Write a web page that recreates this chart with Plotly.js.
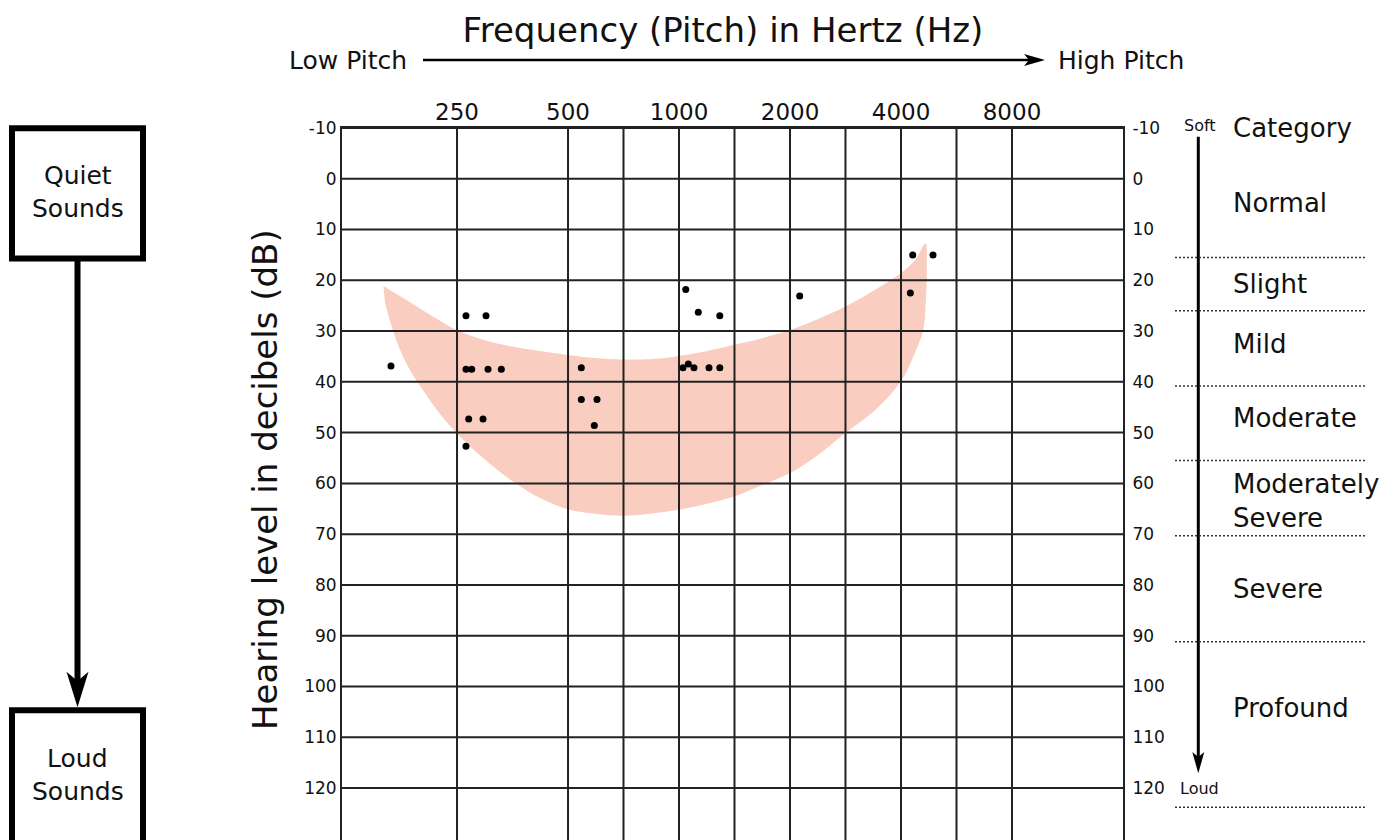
<!DOCTYPE html>
<html><head><meta charset="utf-8">
<script src="https://cdn.plot.ly/plotly-3.0.1.min.js"></script>
<style>html,body{margin:0;padding:0;background:#fff;overflow:hidden}</style>
</head><body><div id="chart" style="width:1395px;height:840px"></div>
<script>
// ---------------- data ----------------
const freqTickVals = [250, 500, 1000, 2000, 4000, 8000];
const freqTickText = ['250', '500', '1000', '2000', '4000', '8000'];
const gridFreqs = [250, 500, 707, 1000, 1414, 2000, 2828, 4000, 5657, 8000];
const dbTicks = [-10, 0, 10, 20, 30, 40, 50, 60, 70, 80, 90, 100, 110, 120];
const xRangeHz = [121.9, 16000];
const yRangeDb = [130.24, -10];

// speech-banana outline (upper edge left->right, then lower edge right->left)
const bananaHz = [157.9, 178.8, 211.2, 249.5, 288.6, 333.8, 406.9, 499.1, 591.9, 706.1, 888.1, 995.6, 1176.4, 1409.9, 1658.4, 1996, 2382, 2820, 3358, 3993, 4365, 4667,
                  4697, 4697, 4662, 4597, 4320, 3993, 3365, 2820, 2382, 1996, 1658.4, 1409.9, 1176.4, 995.6, 834.4, 706.1, 591.9, 499.1, 419.8, 355.3, 294.1, 249.5, 220.2, 202.2, 186.4, 175.1, 167.9, 159.5];
const bananaDb = [21.1, 23.5, 26.8, 29.8, 31.5, 32.7, 33.8, 34.7, 35.3, 35.6, 35.4, 34.9, 34.0, 32.7, 31.5, 29.8, 27.6, 25.2, 22.1, 18.6, 16.0, 12.7,
                  16.7, 19.9, 24.9, 29.8, 35.0, 40.0, 45.9, 50.1, 54.4, 58.0, 60.5, 62.6, 64.1, 65.2, 66.0, 66.4, 66.0, 65.1, 62.9, 59.7, 55.0, 50.1, 45.5, 41.6, 37.7, 33.7, 30.1, 24.5];

// speech sounds (dots)
const pointHz = [264.4, 299.6, 165.5, 264.4, 274.0, 303.4, 329.7, 543.3, 543.3, 599.3, 589.2, 268.9, 294.1, 264.4,
                 4304, 4885, 1043, 1128, 1290, 2125, 4240, 1025, 1060, 1098, 1206, 1290];
const pointDb = [27.0, 27.0, 36.9, 37.5, 37.5, 37.5, 37.5, 37.2, 43.5, 43.5, 48.6, 47.3, 47.3, 52.7,
                 15.0, 15.0, 21.8, 26.3, 27.0, 23.1, 22.5, 37.2, 36.5, 37.2, 37.2, 37.2];

// hearing-loss categories
const categoryBoundsDb = [15.5, 26, 40.8, 55.5, 70.3, 91.2, 123.8];
const categoryLabels = ['Category', 'Normal', 'Slight', 'Mild', 'Moderate', 'Moderately', 'Severe', 'Severe', 'Profound'];

// ---------------- layout helpers ----------------
const L = 342, R = 1123, T = 128, B = 840, W = 1395, H = 840;
const X = px => (px - L) / (R - L);
const Y = py => (B - py) / (B - T);
const FONT = 'DejaVu Sans';
const INK = '#111';
const GRID = '#222';

// grid lines (drawn above the banana fill)
const gx = [], gy = [];
gridFreqs.forEach(f => { gx.push(f, f, null); gy.push(yRangeDb[1], yRangeDb[0], null); });
dbTicks.forEach(d => { gx.push(xRangeHz[0], xRangeHz[1], null); gy.push(d, d, null); });

const traces = [
  { type: 'scatter', mode: 'lines', x: bananaHz, y: bananaDb, fill: 'toself',
    fillcolor: '#F9CEC0', line: { color: 'rgba(0,0,0,0)', width: 0, shape: 'spline', smoothing: 1 },
    hoverinfo: 'skip', showlegend: false },
  { type: 'scatter', mode: 'lines', x: gx, y: gy, line: { color: GRID, width: 2 },
    hoverinfo: 'skip', showlegend: false },
  { type: 'scatter', mode: 'markers', x: pointHz, y: pointDb,
    marker: { color: '#000', size: 7 }, showlegend: false },
  { type: 'scatter', mode: 'markers', x: [null], y: [null], yaxis: 'y2', showlegend: false, hoverinfo: 'skip' }
];

const shapes = [];
const blk = (w) => ({ color: '#000', width: w });
// Quiet / Loud boxes and arrow
shapes.push({ type: 'rect', xref: 'paper', yref: 'paper', x0: X(12), x1: X(143), y0: Y(128.3), y1: Y(258.5), line: blk(6) });
shapes.push({ type: 'rect', xref: 'paper', yref: 'paper', x0: X(12), x1: X(143), y0: Y(710.3), y1: Y(900), line: blk(6) });
shapes.push({ type: 'line', xref: 'paper', yref: 'paper', x0: X(77.5), x1: X(77.5), y0: Y(261), y1: Y(683), line: blk(6) });
const tri = (pts) => 'M' + pts.map(p => X(p[0]) + ',' + Y(p[1])).join('L') + 'Z';
shapes.push({ type: 'path', xref: 'paper', yref: 'paper', path: tri([[77.5, 707.3], [66.5, 671.7], [77.5, 681], [88.5, 671.7]]), fillcolor: '#000', line: { width: 0 } });
// Soft -> Loud arrow
shapes.push({ type: 'line', xref: 'paper', yref: 'paper', x0: X(1198.3), x1: X(1198.3), y0: Y(136.7), y1: Y(760), line: blk(3) });
shapes.push({ type: 'path', xref: 'paper', yref: 'paper', path: tri([[1198.3, 773.3], [1192.3, 752], [1198.3, 757], [1204.3, 752]]), fillcolor: '#000', line: { width: 0 } });
// Low -> High pitch arrow
shapes.push({ type: 'line', xref: 'paper', yref: 'paper', x0: X(423), x1: X(1032), y0: Y(60), y1: Y(60), line: blk(2.5) });
shapes.push({ type: 'path', xref: 'paper', yref: 'paper', path: tri([[1045, 60], [1024, 54], [1029, 60], [1024, 66]]), fillcolor: '#000', line: { width: 0 } });
// category boundaries
categoryBoundsDb.forEach(d => shapes.push({ type: 'line', xref: 'paper', yref: 'y', x0: X(1175), x1: X(1366), y0: d, y1: d,
  line: { color: '#333', width: 1.5, dash: '2px,2px' } }));

const ann = (text, x, y, size, xanchor, extra) => Object.assign({ text, xref: 'paper', yref: 'paper', x: X(x), y: Y(y),
  xanchor: xanchor || 'center', yanchor: 'middle', showarrow: false, font: { family: FONT, size, color: INK } }, extra || {});
const catY = [127.6, 202.6, 284.2, 344.2, 417.6, 484.2, 517.6, 589.2, 707.6];
const annotations = [
  ann('Low Pitch', 409, 60, 25, 'right'),
  ann('High Pitch', 1056, 60, 25, 'left'),
  ann('Hearing level in decibels (dB)', 265, 480, 34, 'center', { textangle: -90 }),
  ann('Quiet', 77.5, 175.3, 25), ann('Sounds', 77.5, 208, 25),
  ann('Loud', 77.5, 758, 25), ann('Sounds', 77.5, 791, 25),
  ann('Soft', 1200, 125, 16), ann('Loud', 1199.5, 788, 16)
];
categoryLabels.forEach((t, i) => annotations.push(ann(t, 1231, catY[i], 26, 'left')));

const yaxisBase = {
  range: yRangeDb, tickvals: dbTicks, ticktext: dbTicks.map(String), showgrid: false, zeroline: false,
  showline: true, linecolor: GRID, linewidth: 2, ticks: '', ticklen: 0,
  tickfont: { family: FONT, size: 17, color: INK }, fixedrange: true
};

const layout = {
  width: W, height: H,
  margin: { l: L, r: W - R, t: T, b: H - B, pad: 0 },
  paper_bgcolor: '#fff', plot_bgcolor: '#fff',
  font: { family: FONT, color: INK },
  title: { text: 'Frequency (Pitch) in Hertz (Hz)', font: { family: FONT, size: 34, color: INK },
           xref: 'paper', x: X(723), xanchor: 'center', yref: 'container', y: 1 - 30 / H, yanchor: 'middle' },
  xaxis: { type: 'log', range: [Math.log10(xRangeHz[0]), Math.log10(xRangeHz[1])], side: 'top',
           tickvals: freqTickVals, ticktext: freqTickText, showgrid: false, zeroline: false,
           showline: true, linecolor: GRID, linewidth: 2, ticks: '', ticklen: 0, ticklabelstandoff: -3,
           tickfont: { family: FONT, size: 23, color: INK }, fixedrange: true },
  yaxis: Object.assign({}, yaxisBase, { side: 'left', ticklabelstandoff: 0 }),
  yaxis2: Object.assign({}, yaxisBase, { side: 'right', overlaying: 'y', anchor: 'x', ticklabelstandoff: 4 }),
  shapes, annotations, showlegend: false
};

Plotly.newPlot('chart', traces, layout, { displayModeBar: false, staticPlot: true });
</script></body></html>
